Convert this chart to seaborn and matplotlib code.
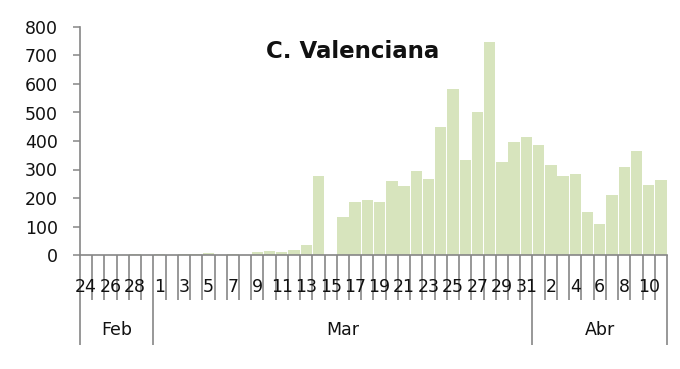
import matplotlib
matplotlib.use("Agg")
import matplotlib.pyplot as plt
import seaborn as sns
import pandas as pd
import numpy as np

months = ["Feb", "Mar", "Abr"]
feb_days = [24, 25, 26, 27, 28, 29]
mar_days = list(range(1, 32))
abr_days = list(range(1, 12))

feb_vals = [1, 1, 1, 1, 2, 1]
mar_vals = [2, 1, 2, 3, 8, 1, 5, 1, 12, 14, 9, 19, 36, 278, 0, 132,
            185, 194, 185, 259, 241, 296, 266, 448, 581, 332, 501, 746,
            325, 395, 413]
abr_vals = [385, 316, 277, 283, 151, 110, 212, 309, 366, 247, 262]

yticks = [0, 100, 200, 300, 400, 500, 600, 700, 800]
title = "C. Valenciana"

days = feb_days + mar_days + abr_days
month_of = ["Feb"] * len(feb_days) + ["Mar"] * len(mar_days) + ["Abr"] * len(abr_days)
vals = feb_vals + mar_vals + abr_vals
keys = [f"{m} {d}" for m, d in zip(month_of, days)]
df = pd.DataFrame({"key": keys, "value": vals})

sns.set_style("white")
plt.rcParams["font.family"] = ["DejaVu Sans"]

fig = plt.figure(figsize=(6.8, 3.69), dpi=100)
ax = fig.add_axes([80 / 680, 1 - 255 / 369, (667 - 80) / 680, (255 - 27) / 369])

sns.barplot(data=df, x="key", y="value", order=keys, color="#d7e4bd",
            saturation=1, width=0.93, ax=ax, edgecolor="none")

grey = "#868686"
txt = "#111111"
fs = 12.5
ax.set_xlim(-0.5, len(keys) - 0.5)
ax.set_ylim(0, 800)
ax.set_yticks(yticks)
ax.set_yticklabels([str(v) for v in yticks], fontsize=fs, color=txt)
ax.tick_params(axis="y", direction="out", length=5, width=1.1, color=grey, pad=11, left=True)
ax.set_xlabel("")
ax.set_ylabel("")
for s in ["top", "right"]:
    ax.spines[s].set_visible(False)
for s in ["left", "bottom"]:
    ax.spines[s].set_color(grey)
    ax.spines[s].set_linewidth(1.2)

# category boundary ticks
n = len(keys)
bounds = [i - 0.5 for i in range(n + 1)]
month_bounds = [-0.5, len(feb_days) - 0.5, len(feb_days) + len(mar_days) - 0.5, n - 0.5]
minor = [b for b in bounds if b not in month_bounds]
ax.set_xticks(month_bounds)
ax.set_xticklabels([])
ax.set_xticks(minor, minor=True)
ax.tick_params(axis="x", which="major", direction="out", length=65, width=1.2, color=grey, bottom=True)
ax.tick_params(axis="x", which="minor", direction="out", length=32.5, width=1.2, color=grey, bottom=True)

trans = ax.get_xaxis_transform()
for i, d in enumerate(days):
    if i % 2 == 0:
        ax.text(i, (255 - 287) / 228, str(d), transform=trans, ha="center", va="center",
                fontsize=fs, color=txt, clip_on=False)

starts = [0, len(feb_days), len(feb_days) + len(mar_days)]
lens = [len(feb_days), len(mar_days), len(abr_days)]
for m, s, l in zip(months, starts, lens):
    ax.text(s + l / 2 - 0.5, (255 - 330) / 228, m, transform=trans, ha="center", va="center",
            fontsize=fs, color=txt, clip_on=False)

fig.text(353 / 680, 1 - 58.3 / 369, title, ha="center", va="baseline",
         fontsize=16.5, fontweight="bold", color=txt)

fig.savefig("out.png", dpi=100, facecolor="white")
